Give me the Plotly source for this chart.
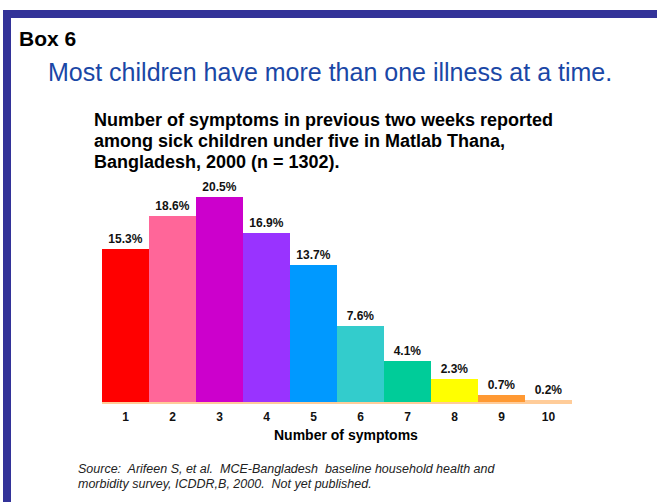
import plotly.graph_objects as go

categories = [1, 2, 3, 4, 5, 6, 7, 8, 9, 10]
percent_values = [15.3, 18.6, 20.5, 16.9, 13.7, 7.6, 4.1, 2.3, 0.7, 0.2]
tick_labels = ["1", "2", "3", "4", "5", "6", "7", "8", "9", "10"]
bar_colors = ["#FF0000", "#FF6699", "#CC00CC", "#9933FF", "#0099FF",
              "#33CCCC", "#00CC99", "#FFFF00", "#FF9933", "#FFCC99"]

title_lines = [
    "Number of symptoms in previous two weeks reported",
    "among sick children under five in Matlab Thana,",
    "Bangladesh, 2000 (n = 1302).",
]
source_lines = [
    "Source:&nbsp; Arifeen S, et al.&nbsp; MCE-Bangladesh&nbsp; baseline household health and",
    "morbidity survey, ICDDR,B, 2000.&nbsp; Not yet published.",
]

FONT = "Arial, 'Liberation Sans', sans-serif"
WIDTH, HEIGHT = 657, 502
L, R, T, B = 102, 85, 187, 100
PW = WIDTH - L - R
PH = HEIGHT - T - B


def px(x):
    return (x - L) / PW


def py(y):
    return (HEIGHT - B - y) / PH


fig = go.Figure()
fig.add_trace(go.Bar(
    x=categories,
    y=percent_values,
    marker=dict(color=bar_colors, line=dict(width=0)),
    text=[f"{v}%" for v in percent_values],
    textposition="outside",
    textfont=dict(family=FONT, size=12, color="#111111"),
    texttemplate="<b>%{text}</b>",
    cliponaxis=False,
    width=1.0,
    hoverinfo="skip",
))

fig.update_layout(
    width=WIDTH, height=HEIGHT,
    margin=dict(l=L, r=R, t=T, b=B, pad=0),
    paper_bgcolor="white", plot_bgcolor="white",
    showlegend=False,
    bargap=0,
    xaxis=dict(
        range=[0.5, 10.5],
        tickmode="array",
        tickvals=categories,
        ticktext=[f"<b>{t}</b>" for t in tick_labels],
        tickfont=dict(family=FONT, size=12, color="#111111"),
        showgrid=False, zeroline=False,
        showline=True, linecolor="#FFCC99", linewidth=2,
        ticks="", ticklabelstandoff=3,
        fixedrange=True,
    ),
    yaxis=dict(
        range=[0, 21.5], visible=False, showgrid=False, zeroline=False,
        fixedrange=True,
    ),
)

frame_color = "#333399"
fig.add_shape(type="rect", xref="paper", yref="paper",
              x0=px(3), x1=px(WIDTH + 2), y0=py(18), y1=py(10),
              fillcolor=frame_color, line=dict(width=0), layer="above")
fig.add_shape(type="rect", xref="paper", yref="paper",
              x0=px(3), x1=px(11), y0=py(HEIGHT + 2), y1=py(10),
              fillcolor=frame_color, line=dict(width=0), layer="above")

fig.add_annotation(xref="paper", yref="paper", x=px(17), y=py(38),
                   xanchor="left", yanchor="middle", showarrow=False,
                   text="<b>Box 6</b>",
                   font=dict(family=FONT, size=21, color="#000000"))

fig.add_annotation(xref="paper", yref="paper", x=px(46), y=py(72),
                   xanchor="left", yanchor="middle", showarrow=False,
                   text="Most children have more than one illness at a time.",
                   font=dict(family=FONT, size=25, color="#1A47A6"))

for line, yc in zip(title_lines, [120, 141, 162]):
    fig.add_annotation(xref="paper", yref="paper", x=px(92), y=py(yc),
                       xanchor="left", yanchor="middle", showarrow=False,
                       text=f"<b>{line}</b>",
                       font=dict(family=FONT, size=18, color="#000000"))

fig.add_annotation(xref="paper", yref="paper", x=px(346), y=py(435),
                   xanchor="center", yanchor="middle", showarrow=False,
                   text="<b>Number of symptoms</b>",
                   font=dict(family=FONT, size=14, color="#000000"))

for line, yc in zip(source_lines, [469, 484]):
    fig.add_annotation(xref="paper", yref="paper", x=px(76), y=py(yc),
                       xanchor="left", yanchor="middle", showarrow=False,
                       text=f"<i>{line}</i>",
                       font=dict(family=FONT, size=12.5, color="#222222"))

fig.write_html("out.html", config={"displayModeBar": False, "staticPlot": True},
               post_script="document.body.style.margin='0';")
